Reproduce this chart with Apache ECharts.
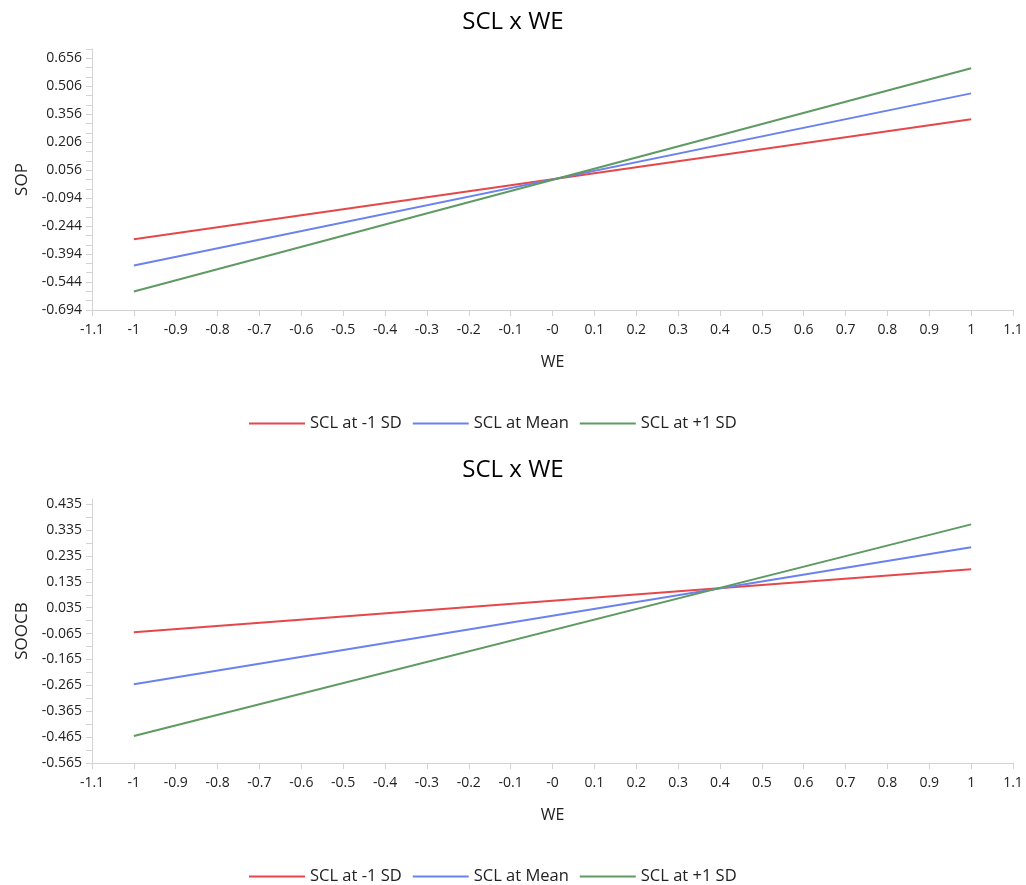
<!DOCTYPE html>
<html>
<head>
<meta charset="utf-8">
<script src="https://cdn.jsdelivr.net/npm/echarts@6/dist/echarts.min.js"></script>
<style>html,body{margin:0;padding:0;background:#fff}#c{width:1026px;height:885px}</style>
</head>
<body>
<div id="c"></div>
<script>
// ---- data ----
const seriesNames = ['SCL at -1 SD', 'SCL at Mean', 'SCL at +1 SD'];
const seriesColors = ['#E6474A', '#6B82EE', '#5F9A62'];
const xPoints = [-1, 1];

const sopLow = [-0.315, 0.329];
const sopMean = [-0.455, 0.468];
const sopHigh = [-0.595, 0.603];

const soocbLow = [-0.060, 0.184];
const soocbMean = [-0.261, 0.269];
const soocbHigh = [-0.461, 0.357];

const xTickValues = [-1.1,-1,-0.9,-0.8,-0.7,-0.6,-0.5,-0.4,-0.3,-0.2,-0.1,0,0.1,0.2,0.3,0.4,0.5,0.6,0.7,0.8,0.9,1,1.1];
const xTickLabels = ['-1.1','-1','-0.9','-0.8','-0.7','-0.6','-0.5','-0.4','-0.3','-0.2','-0.1','-0','0.1','0.2','0.3','0.4','0.5','0.6','0.7','0.8','0.9','1','1.1'];

const sopTickValues = [-0.694,-0.544,-0.394,-0.244,-0.094,0.056,0.206,0.356,0.506,0.656];
const sopTickLabels = ['-0.694','-0.544','-0.394','-0.244','-0.094','0.056','0.206','0.356','0.506','0.656'];
const sopMinorTicks = [-0.644,-0.594,-0.494,-0.444,-0.344,-0.294,-0.194,-0.144,-0.044,0.006,0.106,0.156,0.256,0.306,0.406,0.456,0.556,0.606,0.706];

const soocbTickValues = [-0.565,-0.465,-0.365,-0.265,-0.165,-0.065,0.035,0.135,0.235,0.335,0.435];
const soocbTickLabels = ['-0.565','-0.465','-0.365','-0.265','-0.165','-0.065','0.035','0.135','0.235','0.335','0.435'];
const soocbMinorTicks = [-0.515,-0.415,-0.315,-0.215,-0.115,-0.015,0.085,0.185,0.285,0.385];

const chartTitle = 'SCL x WE';
const xName = 'WE';
const yNames = ['SOP', 'SOOCB'];

// ---- chart ----
const FONT = '"Open Sans", "Noto Sans", sans-serif';
const axisGray = '#D3D3D3';
const txt = '#222';

function labelFor(values, labels) {
  return function (v) {
    for (let i = 0; i < values.length; i++) if (Math.abs(values[i] - v) < 1e-6) return labels[i];
    return '';
  };
}

function xAxis(gridIndex) {
  return {
    type: 'value', gridIndex: gridIndex, min: -1.1, max: 1.1,
    name: xName, nameLocation: 'middle', nameGap: 44,
    nameTextStyle: { fontFamily: FONT, fontSize: 16, color: txt },
    axisLine: { show: true, onZero: false, lineStyle: { color: axisGray, width: 1 } },
    axisTick: { show: true, length: 6, lineStyle: { color: axisGray }, customValues: xTickValues },
    axisLabel: { customValues: xTickValues, formatter: labelFor(xTickValues, xTickLabels),
      fontFamily: FONT, fontSize: 14, color: txt, margin: 13 },
    splitLine: { show: false }
  };
}

function yAxis(gridIndex, name, min, max, vals, labels, minor) {
  return {
    type: 'value', gridIndex: gridIndex, min: min, max: max,
    name: name, nameLocation: 'middle', nameGap: 61, nameRotate: 90,
    nameTextStyle: { fontFamily: FONT, fontSize: 17, color: txt },
    axisLine: { show: true, onZero: false, lineStyle: { color: axisGray, width: 1 } },
    axisTick: { show: true, length: 6, lineStyle: { color: axisGray }, customValues: vals.concat(minor) },
    axisLabel: { customValues: vals, formatter: labelFor(vals, labels),
      fontFamily: FONT, fontSize: 14, color: txt, margin: 10 },
    splitLine: { show: false }
  };
}

function mkSeries(name, color, values, idx) {
  return {
    name: name, type: 'line', xAxisIndex: idx, yAxisIndex: idx,
    data: xPoints.map((x, i) => [x, values[i]]),
    symbol: 'none', color: color, lineStyle: { color: color, width: 2 },
    emphasis: { disabled: true }, animation: false
  };
}

const legendBase = {
  left: 244, icon: 'path://M0,0 L56,0 L56,2 L0,2 Z', itemWidth: 56, itemHeight: 2, itemGap: 11,
  textStyle: { fontFamily: FONT, fontSize: 16.5, color: txt }, data: seriesNames
};

const option = {
  backgroundColor: '#fff',
  animation: false,
  title: [
    { text: chartTitle, left: 'center', top: 5, textStyle: { fontFamily: FONT, fontSize: 24, fontWeight: 'normal', color: '#000' } },
    { text: chartTitle, left: 'center', top: 453, textStyle: { fontFamily: FONT, fontSize: 24, fontWeight: 'normal', color: '#000' } }
  ],
  legend: [
    Object.assign({}, legendBase, { top: 410 }),
    Object.assign({}, legendBase, { top: 863 })
  ],
  grid: [
    { left: 92, right: 13, top: 49, height: 261 },
    { left: 92, right: 13, top: 499, height: 264 }
  ],
  xAxis: [xAxis(0), xAxis(1)],
  yAxis: [
    yAxis(0, yNames[0], -0.694, 0.706, sopTickValues, sopTickLabels, sopMinorTicks),
    yAxis(1, yNames[1], -0.565, 0.455, soocbTickValues, soocbTickLabels, soocbMinorTicks)
  ],
  series: [
    mkSeries(seriesNames[0], seriesColors[0], sopLow, 0),
    mkSeries(seriesNames[1], seriesColors[1], sopMean, 0),
    mkSeries(seriesNames[2], seriesColors[2], sopHigh, 0),
    mkSeries(seriesNames[0], seriesColors[0], soocbLow, 1),
    mkSeries(seriesNames[1], seriesColors[1], soocbMean, 1),
    mkSeries(seriesNames[2], seriesColors[2], soocbHigh, 1)
  ]
};

const chart = echarts.init(document.getElementById('c'), null, { renderer: 'canvas' });
chart.setOption(option);
</script>
</body>
</html>
